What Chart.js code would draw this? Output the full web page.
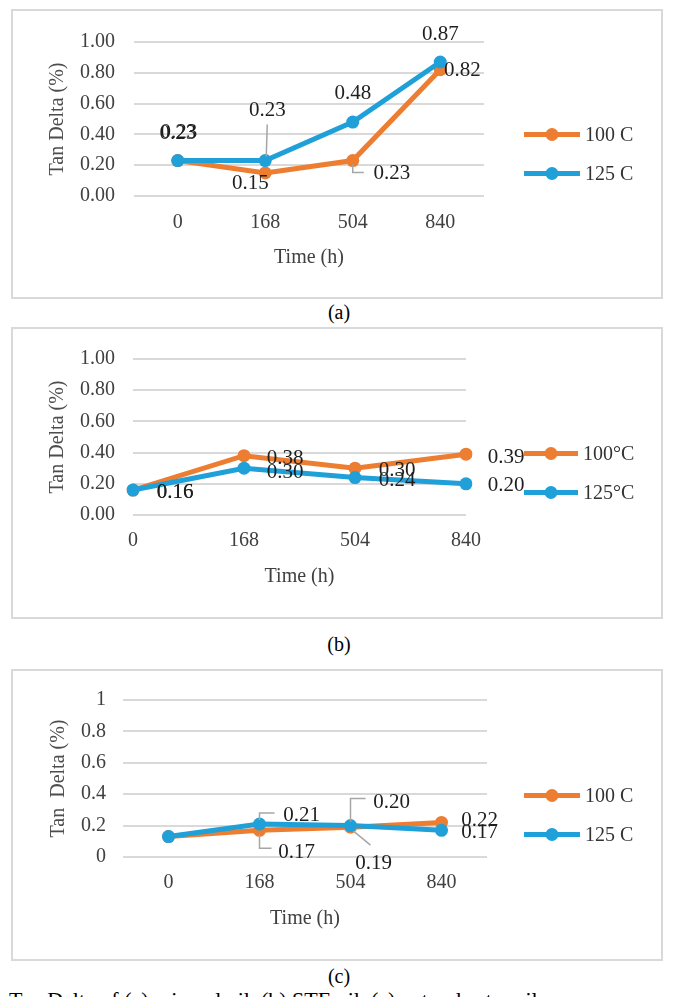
<!DOCTYPE html>
<html>
<head>
<meta charset="utf-8">
<script src="https://cdn.jsdelivr.net/npm/chart.js@4.4.1/dist/chart.umd.min.js"></script>
<style>
  html, body { margin: 0; padding: 0; background: #fff; width: 676px; height: 997px; overflow: hidden; }
  body { position: relative; font-family: "Liberation Serif", "Times New Roman", serif; }
  .box { position: absolute; left: 11px; width: 648px; border: 2px solid #d9d9d9; }
  .box canvas { display: block; }
  .cap { position: absolute; left: 0; width: 678px; text-align: center; font-size: 20px; line-height: 20px; color: #000; }
  .fig { position: absolute; left: 9px; top: 989px; font-size: 22px; line-height: 22px; white-space: nowrap; color: #000; }
</style>
</head>
<body>
<div class="box" style="top:9px;height:286px"><canvas id="chartA" width="648" height="286"></canvas></div>
<div class="cap" style="top:302px">(a)</div>
<div class="box" style="top:327px;height:288px"><canvas id="chartB" width="648" height="288"></canvas></div>
<div class="cap" style="top:634px">(b)</div>
<div class="box" style="top:669px;height:288px"><canvas id="chartC" width="648" height="288"></canvas></div>
<div class="cap" style="top:966px">(c)</div>
<div class="fig">Tan Delta of (a) mineral oil, (b) STE oil, (c) natural ester oil</div>
<script>
// data
const timeLabels = ['0', '168', '504', '840'];
const yTickValues = [0, 0.2, 0.4, 0.6, 0.8, 1];

const mineral100 = [0.23, 0.15, 0.23, 0.82];
const mineral125 = [0.23, 0.23, 0.48, 0.87];
const ste100 = [0.16, 0.38, 0.30, 0.39];
const ste125 = [0.16, 0.30, 0.24, 0.20];
const ester100 = [0.13, 0.17, 0.19, 0.22];
const ester125 = [0.13, 0.21, 0.20, 0.17];

const namesA = ['100 C', '125 C'];
const namesB = ['100\u00B0C', '125\u00B0C'];
const namesC = ['100 C', '125 C'];

const FONT = '"Liberation Serif", "Times New Roman", serif';
const ORANGE = '#ED7D31';
const BLUE = '#1FA0D8';

// where each value label sits relative to its point (dx, dy), plus optional leader line
const placeA = [
  [{dx: 0, dy: -27}, {dx: -15, dy: 11}, {dx: 39, dy: 13, leader: [[0, 4], [0, 12], [11, 12]]}, {dx: 22, dy: 1}],
  [{dx: 1, dy: -28}, {dx: 2, dy: -50, leader: [[1, -4], [2, -36]]}, {dx: 0, dy: -29}, {dx: 0, dy: -28}]
];
const placeB = [
  [{dx: 42, dy: 2}, {dx: 41, dy: 3}, {dx: 42, dy: 2}, {dx: 40, dy: 3}],
  [{dx: 42, dy: 2}, {dx: 41, dy: 4}, {dx: 42, dy: 3}, {dx: 40, dy: 2}]
];
const placeC = [
  [null, {dx: 37, dy: 22, leader: [[0, 4], [0, 18], [12, 18]]}, {dx: 23, dy: 36, leader: [[3, 4], [20, 18]]}, {dx: 38, dy: -2}],
  [null, {dx: 42, dy: -9, leader: [[0, -4], [0, -11], [15, -11]]}, {dx: 41, dy: -23, leader: [[0, -4], [0, -27], [15, -27]]}, {dx: 38, dy: 2}]
];

const valueLabels = {
  id: 'valueLabels',
  afterDatasetsDraw(chart, args, opts) {
    const ctx = chart.ctx;
    ctx.save();
    ctx.font = '21px ' + FONT;
    ctx.textAlign = 'center';
    ctx.textBaseline = 'middle';
    chart.data.datasets.forEach((ds, i) => {
      chart.getDatasetMeta(i).data.forEach((pt, j) => {
        const pl = opts.place[i][j];
        if (!pl) return;
        if (pl.leader) {
          ctx.strokeStyle = '#a6a6a6';
          ctx.lineWidth = 1.5;
          ctx.beginPath();
          pl.leader.forEach(([dx, dy], k) => {
            if (k === 0) ctx.moveTo(pt.x + dx, pt.y + dy);
            else ctx.lineTo(pt.x + dx, pt.y + dy);
          });
          ctx.stroke();
        }
        ctx.fillStyle = '#1f1f1f';
        ctx.fillText(ds.data[j].toFixed(2), pt.x + pl.dx, pt.y + pl.dy);
      });
    });
    ctx.restore();
  }
};

// Excel-like legend on the right: line with a dot, then the series name
const sideLegend = {
  id: 'sideLegend',
  afterDraw(chart, args, opts) {
    const ctx = chart.ctx;
    const mid = chart.height / 2;
    ctx.save();
    ctx.font = '20px ' + FONT;
    ctx.textBaseline = 'middle';
    ctx.textAlign = 'left';
    chart.data.datasets.forEach((ds, i) => {
      const y = mid + (i - 0.5) * opts.gap;
      ctx.strokeStyle = ds.borderColor;
      ctx.lineWidth = 5;
      ctx.beginPath();
      ctx.moveTo(opts.x, y);
      ctx.lineTo(opts.x + opts.len, y);
      ctx.stroke();
      ctx.fillStyle = ds.borderColor;
      ctx.beginPath();
      ctx.arc(opts.x + opts.len / 2, y, 6.5, 0, Math.PI * 2);
      ctx.fill();
      ctx.fillStyle = '#333333';
      ctx.fillText(ds.label, opts.x + opts.len + 5, y + 1);
    });
    ctx.restore();
  }
};

function makePanel(id, names, s100, s125, p) {
  const line = (label, data, color, order) => ({
    label, data, order,
    borderColor: color,
    backgroundColor: color,
    borderWidth: 5,
    pointRadius: 6.5,
    pointBorderWidth: 0,
    pointBackgroundColor: color,
    tension: 0
  });
  return new Chart(document.getElementById(id), {
    type: 'line',
    data: {
      labels: timeLabels,
      datasets: [line(names[0], s100, ORANGE, 1), line(names[1], s125, BLUE, 0)]
    },
    plugins: [valueLabels, sideLegend],
    options: {
      responsive: false,
      animation: false,
      events: [],
      layout: {padding: {left: p.padL, right: p.padR, top: 28, bottom: p.padB}},
      scales: {
        x: {
          offset: p.offset,
          afterFit: s => { s.height = 76; },
          grid: {display: false, drawTicks: false},
          border: {display: false},
          ticks: {color: '#404040', font: {family: FONT, size: 20}, padding: p.xTickPad, maxRotation: 0},
          title: {display: true, text: 'Time (h)', color: '#404040', font: {family: FONT, size: 20}, padding: {top: 0, bottom: 2}}
        },
        y: {
          min: 0,
          max: 1,
          afterBuildTicks: axis => { axis.ticks = yTickValues.map(v => ({value: v})); },
          afterFit: s => { s.width = p.yWidth; },
          grid: {color: '#d9d9d9', lineWidth: 2, drawTicks: false},
          border: {display: false},
          ticks: {color: '#404040', font: {family: FONT, size: 20}, padding: p.yTickPad, callback: p.yFormat},
          title: {display: true, text: p.yTitle, color: '#4d4d4d', font: {family: FONT, size: 20}, padding: {top: 13, bottom: 0}}
        }
      },
      plugins: {
        tooltip: {enabled: false},
        legend: {display: false},
        valueLabels: {place: p.place},
        sideLegend: {x: 511, len: p.legendLen, gap: 39}
      }
    }
  });
}

const fixed2 = v => Number(v).toFixed(2);
const plain = v => String(Number(Number(v).toFixed(1)));

makePanel('chartA', namesA, mineral100, mineral125, {
  padL: 20, padR: 177, padB: 25, offset: true, xTickPad: 15, yTickPad: 19, yWidth: 101,
  yFormat: fixed2, yTitle: 'Tan Delta (%)', legendLen: 56, place: placeA
});
makePanel('chartB', namesB, ste100, ste125, {
  padL: 20, padR: 195, padB: 26, offset: false, xTickPad: 14, yTickPad: 18, yWidth: 100,
  yFormat: fixed2, yTitle: 'Tan Delta (%)', legendLen: 54, place: placeB
});
makePanel('chartC', namesC, ester100, ester125, {
  padL: 21, padR: 174, padB: 26, offset: true, xTickPad: 14, yTickPad: 17, yWidth: 89,
  yFormat: plain, yTitle: 'Tan  Delta (%)', legendLen: 56, place: placeC
});
</script>
</body>
</html>
